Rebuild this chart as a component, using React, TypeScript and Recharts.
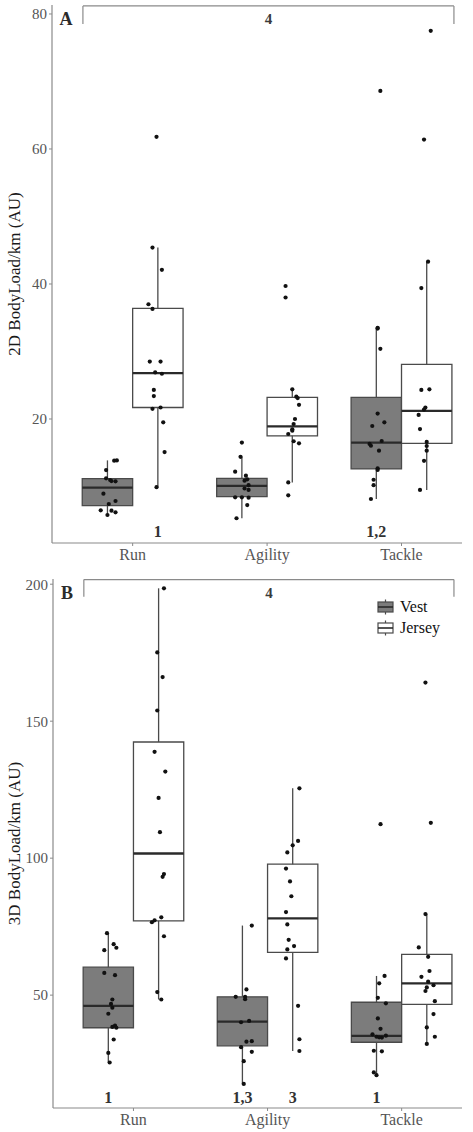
import React from 'react';
import {
  ScatterChart,
  Scatter,
  XAxis,
  YAxis,
  ReferenceArea,
  ReferenceLine,
  Legend,
} from 'recharts';

const FONT = '"Liberation Serif", "Times New Roman", serif';

const CATEGORIES = ['Run', 'Agility', 'Tackle'];
const GROUPS = ['Vest', 'Jersey'];
const GROUP_FILL: Record<string, string> = { Vest: '#7c7c7c', Jersey: '#ffffff' };

// Box statistics per category: [lower whisker, Q1, median, Q3, upper whisker]
const BOX_2D_VEST = [
  [5.78, 7.16, 9.82, 11.16, 13.87],
  [5.3, 8.5, 10.1, 11.2, 14.4],
  [8.15, 12.6, 16.5, 23.2, 33.5],
];
const BOX_2D_JERSEY = [
  [9.9, 21.7, 26.8, 36.4, 45.4],
  [10.6, 17.5, 18.9, 23.2, 24.4],
  [9.5, 16.4, 21.2, 28.1, 43.3],
];
const BOX_3D_VEST = [
  [25.4, 38.1, 46.1, 60.2, 72.6],
  [17.6, 31.5, 40.3, 49.4, 75.4],
  [20.8, 32.8, 35.1, 47.4, 57.0],
];
const BOX_3D_JERSEY = [
  [48.4, 77.1, 101.7, 142.4, 198.5],
  [29.6, 65.6, 78.0, 97.8, 125.5],
  [32.2, 46.6, 54.3, 64.9, 79.6],
];

// Individual players: [value, horizontal jitter in category units]
const PTS_2D_VEST_RUN = [
  [13.82, 0.05], [13.87, 0.07], [12.44, -0.01], [11.21, -0.01], [10.96, 0.02],
  [10.81, 0.03], [10.77, 0.06], [8.93, -0.03], [7.85, 0.06], [7.41, 0.01],
  [6.47, -0.05], [6.42, 0.03], [6.18, 0.06], [5.78, 0.0],
];
const PTS_2D_VEST_AGILITY = [
  [16.5, 0.0], [14.4, -0.01], [12.2, -0.05], [11.6, 0.03], [11.06, 0.04],
  [10.86, 0.02], [10.2, 0.05], [9.7, 0.02], [9.5, 0.05], [8.4, -0.05],
  [8.4, 0.0], [8.35, 0.05], [7.25, 0.04], [5.3, -0.04],
];
const PTS_2D_VEST_TACKLE = [
  [68.6, 0.03], [33.5, 0.01], [33.4, 0.01], [30.4, 0.03], [20.8, 0.01],
  [19.5, 0.06], [18.96, -0.03], [16.74, 0.04], [16.04, -0.04], [16.3, -0.05],
  [15.3, 0.02], [12.7, 0.01], [12.45, 0.01], [11.0, -0.02], [10.2, -0.02],
  [8.15, -0.04],
];
const PTS_2D_JERSEY_RUN = [
  [61.8, -0.01], [45.4, -0.04], [42.1, 0.03], [37.0, -0.07], [36.3, -0.04],
  [28.5, -0.06], [28.5, 0.02], [26.9, -0.02], [26.7, 0.03], [24.3, -0.03],
  [23.4, -0.03], [21.5, -0.04], [21.7, 0.02], [19.5, 0.04], [15.1, 0.05],
  [9.9, -0.01],
];
const PTS_2D_JERSEY_AGILITY = [
  [39.7, -0.05], [38.0, -0.05], [24.4, 0.0], [23.3, 0.03], [23.1, 0.04],
  [22.1, 0.05], [20.0, 0.02], [19.26, 0.01], [18.47, 0.0], [18.27, 0.0],
  [17.78, -0.03], [16.7, 0.01], [16.4, 0.05], [10.6, -0.03], [8.7, -0.03],
];
const PTS_2D_JERSEY_TACKLE = [
  [77.5, 0.03], [61.4, -0.02], [43.3, 0.01], [39.4, -0.04], [24.3, -0.04],
  [24.4, 0.02], [21.7, -0.01], [21.4, -0.02], [20.6, -0.06], [18.5, -0.05],
  [16.6, 0.0], [16.0, 0.0], [15.3, 0.0], [13.8, -0.02], [9.5, -0.05],
];

const PTS_3D_VEST_RUN = [
  [72.6, -0.01], [68.6, 0.04], [67.3, 0.06], [66.4, -0.03], [58.1, -0.03],
  [57.3, 0.05], [48.4, 0.03], [46.8, 0.02], [45.4, 0.03], [43.2, 0.0],
  [38.4, 0.03], [38.9, 0.05], [38.1, 0.06], [33.8, 0.04], [28.9, 0.0],
  [25.4, 0.01],
];
const PTS_3D_VEST_AGILITY = [
  [75.4, 0.07], [52.1, 0.03], [49.4, 0.02], [49.4, -0.05], [48.5, 0.02],
  [40.1, -0.01], [40.6, 0.05], [33.0, 0.03], [33.2, 0.07], [31.0, -0.01],
  [29.3, 0.07], [25.9, 0.01], [17.6, 0.01],
];
const PTS_3D_VEST_TACKLE = [
  [112.4, 0.03], [57.0, 0.06], [54.3, 0.02], [49.0, 0.01], [47.0, 0.07],
  [41.5, 0.01], [37.7, 0.03], [35.7, -0.03], [34.8, 0.0], [34.5, 0.04],
  [35.2, 0.07], [34.6, 0.02], [29.7, -0.02], [29.5, 0.04], [21.8, -0.02],
  [20.8, 0.0],
];
const PTS_3D_JERSEY_RUN = [
  [198.5, 0.04], [175.1, -0.01], [166.1, 0.03], [153.9, -0.01], [138.8, -0.03],
  [131.6, 0.05], [122.0, 0.0], [109.5, 0.01], [94.2, 0.04], [93.2, 0.03],
  [76.6, -0.05], [77.3, -0.03], [78.4, 0.02], [71.5, 0.04], [51.1, -0.01],
  [48.4, 0.02],
];
const PTS_3D_JERSEY_AGILITY = [
  [125.5, 0.05], [106.3, 0.04], [104.7, 0.0], [102.1, -0.04], [96.2, -0.05],
  [91.5, -0.02], [86.1, -0.01], [80.3, -0.05], [75.8, -0.04], [70.2, -0.03],
  [67.9, 0.01], [66.7, -0.04], [63.4, -0.05], [46.1, 0.04], [33.9, 0.05],
  [29.6, 0.05],
];
const PTS_3D_JERSEY_TACKLE = [
  [164.1, -0.01], [112.9, 0.03], [79.6, -0.01], [67.4, -0.06], [64.0, 0.01],
  [58.8, 0.02], [56.7, -0.04], [54.9, 0.01], [53.6, 0.05], [52.8, 0.0],
  [51.5, -0.01], [47.8, 0.06], [43.1, 0.05], [38.2, 0.0], [34.8, 0.06],
  [32.2, 0.0],
];

// Significance markers under the boxes
const SIG_2D = [
  { cat: 0, group: 'Jersey', text: '1' },
  { cat: 2, group: 'Vest', text: '1,2' },
];
const SIG_3D = [
  { cat: 0, group: 'Vest', text: '1' },
  { cat: 1, group: 'Vest', text: '1,3' },
  { cat: 1, group: 'Jersey', text: '3' },
  { cat: 2, group: 'Vest', text: '1' },
];

const DODGE = 0.1875;
const HALF_BOX = 0.1875;
const BOX_STROKE = '#4a4a4a';
const AXIS_GREY = '#8a8a8a';
const TEXT_GREY = '#555555';

const groupX = (ci: number, group: string) => ci + 1 + (group === 'Vest' ? -DODGE : DODGE);

const toPoints = (sets: number[][][], group: string) =>
  sets.flatMap((set, ci) => set.map(([v, j]) => ({ x: groupX(ci, group) + j, y: v })));

type PanelCfg = {
  letter: string;
  yLabel: string;
  domain: [number, number];
  ticks: number[];
  boxes: Record<string, number[][]>;
  points: { x: number; y: number }[];
  sigs: { cat: number; group: string; text: string }[];
  sigY: number;
  bracket: { x1: number; x2: number; top: number; tip: number; labelY: number };
  legend: boolean;
  height: number;
  marginTop: number;
  marginLeft: number;
  xAxisHeight: number;
};

const dotShape = (p: any) => <circle cx={p.cx} cy={p.cy} r={2.1} fill="#111" />;

const textShape = (size: number, fill: string) => (p: any) => (
  <text
    x={p.cx}
    y={p.cy}
    textAnchor="middle"
    dominantBaseline="central"
    fontFamily={FONT}
    fontWeight="bold"
    fontSize={size}
    fill={fill}
  >
    {p.payload?.text ?? p.text}
  </text>
);

const LegendGlyph = ({ fill }: { fill: string }) => (
  <svg width={17} height={16} style={{ display: 'block' }}>
    <line x1={8.5} y1={0.5} x2={8.5} y2={15.5} stroke={BOX_STROKE} strokeWidth={1.2} />
    <rect x={1} y={3} width={15} height={10} fill={fill} stroke={BOX_STROKE} strokeWidth={1.2} />
    <line x1={1} y1={8} x2={16} y2={8} stroke="#2a2a2a" strokeWidth={1.6} />
  </svg>
);

const LegendContent = () => (
  <div style={{ fontFamily: FONT, fontSize: 16, color: '#111' }}>
    {GROUPS.map((g) => (
      <div key={g} style={{ display: 'flex', alignItems: 'center', height: 21 }}>
        <LegendGlyph fill={GROUP_FILL[g]} />
        <span style={{ marginLeft: 6 }}>{g}</span>
      </div>
    ))}
  </div>
);

function Panel({ cfg }: { cfg: PanelCfg }) {
  const yLabel = (props: any) => {
    const vb = props.viewBox || {};
    const cy = (vb.y ?? 0) + (vb.height ?? 0) / 2;
    return (
      <text
        x={14}
        y={cy}
        transform={`rotate(-90 14 ${cy})`}
        textAnchor="middle"
        dominantBaseline="central"
        fontFamily={FONT}
        fontSize={17}
        fill="#1a1a1a"
      >
        {cfg.yLabel}
      </text>
    );
  };

  const topAnn = [
    { x: 0.505, y: cfg.bracket.labelY, text: cfg.letter },
  ];
  const midAnn = [{ x: 2.01, y: cfg.bracket.labelY, text: '4' }];
  const sigAnn = cfg.sigs.map((s) => ({ x: groupX(s.cat, s.group), y: cfg.sigY, text: s.text }));

  return (
    <ScatterChart
      width={473}
      height={cfg.height}
      margin={{ top: cfg.marginTop, right: 11, bottom: 0, left: cfg.marginLeft }}
    >
      <XAxis
        type="number"
        dataKey="x"
        domain={[0.4, 3.45]}
        allowDataOverflow
        ticks={[1, 2, 3]}
        tickFormatter={(v: number) => CATEGORIES[Math.round(v) - 1] ?? ''}
        height={cfg.xAxisHeight}
        tickSize={3}
        tickMargin={3}
        axisLine={{ stroke: AXIS_GREY, strokeWidth: 1.2 }}
        tickLine={{ stroke: AXIS_GREY }}
        tick={{ fill: TEXT_GREY, fontSize: 16, fontFamily: FONT }}
      />
      <YAxis
        type="number"
        dataKey="y"
        domain={cfg.domain}
        allowDataOverflow
        ticks={cfg.ticks}
        width={52}
        tickSize={3}
        tickMargin={2}
        axisLine={{ stroke: AXIS_GREY, strokeWidth: 1.2 }}
        tickLine={{ stroke: AXIS_GREY }}
        tick={{ fill: TEXT_GREY, fontSize: 15, fontFamily: FONT }}
        label={yLabel}
      />

      {GROUPS.flatMap((g) =>
        cfg.boxes[g].map(([lw, q1, med, q3, uw], ci) => {
          const cx = groupX(ci, g);
          return [
            <ReferenceLine
              key={`wu-${g}-${ci}`}
              segment={[{ x: cx, y: q3 }, { x: cx, y: uw }]}
              stroke={BOX_STROKE}
              strokeWidth={1.3}
              ifOverflow="visible"
            />,
            <ReferenceLine
              key={`wl-${g}-${ci}`}
              segment={[{ x: cx, y: lw }, { x: cx, y: q1 }]}
              stroke={BOX_STROKE}
              strokeWidth={1.3}
              ifOverflow="visible"
            />,
            <ReferenceArea
              key={`box-${g}-${ci}`}
              x1={cx - HALF_BOX}
              x2={cx + HALF_BOX}
              y1={q1}
              y2={q3}
              fill={GROUP_FILL[g]}
              fillOpacity={1}
              stroke={BOX_STROKE}
              strokeWidth={1.3}
              ifOverflow="visible"
            />,
            <ReferenceLine
              key={`med-${g}-${ci}`}
              segment={[{ x: cx - HALF_BOX, y: med }, { x: cx + HALF_BOX, y: med }]}
              stroke="#2a2a2a"
              strokeWidth={2.3}
              ifOverflow="visible"
            />,
          ];
        })
      )}

      {/* comparison bracket across all activities */}
      <ReferenceLine
        segment={[{ x: cfg.bracket.x1, y: cfg.bracket.top }, { x: cfg.bracket.x2, y: cfg.bracket.top }]}
        stroke={AXIS_GREY}
        strokeWidth={1.2}
        ifOverflow="visible"
      />
      <ReferenceLine
        segment={[{ x: cfg.bracket.x1, y: cfg.bracket.top }, { x: cfg.bracket.x1, y: cfg.bracket.tip }]}
        stroke={AXIS_GREY}
        strokeWidth={1.2}
        ifOverflow="visible"
      />
      <ReferenceLine
        segment={[{ x: cfg.bracket.x2, y: cfg.bracket.top }, { x: cfg.bracket.x2, y: cfg.bracket.tip }]}
        stroke={AXIS_GREY}
        strokeWidth={1.2}
        ifOverflow="visible"
      />

      <Scatter data={cfg.points} shape={dotShape} isAnimationActive={false} />
      <Scatter data={topAnn} shape={textShape(18, '#2b2b2b')} isAnimationActive={false} />
      <Scatter data={midAnn} shape={textShape(15, '#3a3a3a')} isAnimationActive={false} />
      <Scatter data={sigAnn} shape={textShape(16, '#333')} isAnimationActive={false} />

      {cfg.legend && (
        <Legend
          layout="horizontal"
          verticalAlign="middle"
          align="center"
          content={LegendContent}
          wrapperStyle={{ left: 377, top: 31, width: 'auto', height: 'auto' }}
        />
      )}
    </ScatterChart>
  );
}

const PANEL_2D: PanelCfg = {
  letter: 'A',
  yLabel: '2D BodyLoad/km (AU)',
  domain: [1.63, 81.33],
  ticks: [20, 40, 60, 80],
  boxes: { Vest: BOX_2D_VEST, Jersey: BOX_2D_JERSEY },
  points: [
    ...toPoints([PTS_2D_VEST_RUN, PTS_2D_VEST_AGILITY, PTS_2D_VEST_TACKLE], 'Vest'),
    ...toPoints([PTS_2D_JERSEY_RUN, PTS_2D_JERSEY_AGILITY, PTS_2D_JERSEY_TACKLE], 'Jersey'),
  ],
  sigs: SIG_2D,
  sigY: 3.4,
  bracket: { x1: 0.63, x2: 3.39, top: 81.2, tip: 78.5, labelY: 79.2 },
  legend: false,
  height: 565,
  marginTop: 5,
  marginLeft: 0,
  xAxisHeight: 22,
};

const PANEL_3D: PanelCfg = {
  letter: 'B',
  yLabel: '3D BodyLoad/km (AU)',
  domain: [8.8, 201.9],
  ticks: [50, 100, 150, 200],
  boxes: { Vest: BOX_3D_VEST, Jersey: BOX_3D_JERSEY },
  points: [
    ...toPoints([PTS_3D_VEST_RUN, PTS_3D_VEST_AGILITY, PTS_3D_VEST_TACKLE], 'Vest'),
    ...toPoints([PTS_3D_JERSEY_RUN, PTS_3D_JERSEY_AGILITY, PTS_3D_JERSEY_TACKLE], 'Jersey'),
  ],
  sigs: SIG_3D,
  sigY: 12.8,
  bracket: { x1: 0.63, x2: 3.39, top: 201.7, tip: 195.4, labelY: 196.7 },
  legend: true,
  height: 567,
  marginTop: 14,
  marginLeft: 1,
  xAxisHeight: 24,
};

export default function App() {
  return (
    <div style={{ position: 'absolute', left: 0, top: 0, width: 473, height: 1132, background: '#fff' }}>
      <div style={{ position: 'absolute', left: 0, top: 0 }}>
        <Panel cfg={PANEL_2D} />
      </div>
      <div style={{ position: 'absolute', left: 0, top: 565 }}>
        <Panel cfg={PANEL_3D} />
      </div>
    </div>
  );
}
